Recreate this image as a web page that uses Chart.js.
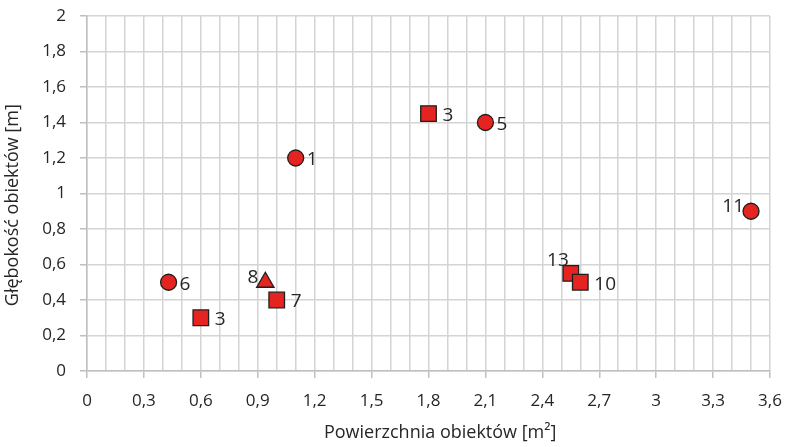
<!DOCTYPE html>
<html lang="pl">
<head>
  <meta charset="UTF-8" />
  <title>Głębokość obiektów</title>
  <script src="https://cdn.jsdelivr.net/npm/chart.js"></script>
  <style>
    html, body { margin: 0; padding: 0; background: #ffffff; }
    #wrap { width: 786px; height: 447px; }
  </style>
</head>
<body>
  <div id="wrap"><canvas id="chart"></canvas></div>

  <script>
    // data
    const areaX   = [1.1, 1.8, 2.1, 3.5, 0.43, 0.6, 0.94, 1.0, 2.55, 2.6];
    const depthY  = [1.2, 1.45, 1.4, 0.9, 0.5, 0.3, 0.5, 0.4, 0.55, 0.5];
    const labels  = ['1', '3', '5', '11', '6', '3', '8', '7', '13', '10'];
    const shapes  = ['circle', 'rect', 'circle', 'circle', 'circle', 'rect', 'triangle', 'rect', 'rect', 'rect'];
    const labelSide = ['right', 'right', 'right', 'left', 'right', 'right', 'left', 'right', 'above', 'right'];

    const xMax = 3.6, yMax = 2;
    const fontFamily = '"Open Sans", sans-serif';
    const textColor = '#262626';
    const sizes = { circle: 8, rect: 11, triangle: 10 };

    const fmt = v => String(Math.round(v * 10) / 10).replace('.', ',');
    const isMajorX = v => Math.abs(Math.round(v * 10) % 3) === 0;

    // point labels next to the markers
    const pointLabels = {
      id: 'pointLabels',
      afterDatasetsDraw(chart) {
        const ctx = chart.ctx;
        const meta = chart.getDatasetMeta(0);
        ctx.save();
        ctx.font = '19px ' + fontFamily;
        ctx.fillStyle = textColor;
        ctx.textBaseline = 'middle';
        meta.data.forEach((pt, i) => {
          const side = labelSide[i];
          if (side === 'left') {
            ctx.textAlign = 'right';
            ctx.fillText(labels[i], pt.x - 7, pt.y - 5);
          } else if (side === 'above') {
            ctx.textAlign = 'right';
            ctx.fillText(labels[i], pt.x - 2, pt.y - 13);
          } else {
            ctx.textAlign = 'left';
            ctx.fillText(labels[i], pt.x + sizes[shapes[i]] + 3, pt.y + 2);
          }
        });
        ctx.restore();
      }
    };

    new Chart(document.getElementById('chart'), {
      type: 'scatter',
      data: {
        datasets: [{
          data: areaX.map((x, i) => ({ x, y: depthY[i] })),
          pointStyle: shapes,
          pointRadius: shapes.map(s => sizes[s]),
          backgroundColor: '#E52421',
          borderColor: '#1f1f1f',
          borderWidth: 1.3
        }]
      },
      options: {
        responsive: true,
        maintainAspectRatio: false,
        animation: false,
        layout: { padding: { top: 16, right: 16, left: 0, bottom: 0 } },
        plugins: { legend: { display: false }, tooltip: { enabled: false } },
        scales: {
          x: {
            type: 'linear',
            min: 0, max: xMax,
            afterFit(scale) {
              scale.height = 76;
              scale.paddingLeft = 0;
              scale.paddingRight = 0;
            },
            ticks: {
              stepSize: 0.1,
              autoSkip: false,
              maxRotation: 0,
              padding: 13,
              color: textColor,
              font: { family: fontFamily, size: 17 },
              callback: v => isMajorX(v) ? fmt(v) : ''
            },
            grid: {
              color: '#d4d4d4',
              lineWidth: 1.5,
              tickLength: 7,
              tickColor: ctx => isMajorX(ctx.tick.value) ? '#bfbfbf' : 'rgba(0,0,0,0)'
            },
            border: { color: '#bfbfbf', width: 1.5 },
            title: {
              display: true,
              text: '     Powierzchnia obiektów [m²]',
              color: textColor,
              font: { family: fontFamily, size: 18 },
              padding: { top: 0, bottom: 3 }
            }
          },
          y: {
            type: 'linear',
            min: 0, max: yMax,
            afterFit(scale) {
              scale.width = 87;
              scale.paddingTop = 0;
              scale.paddingBottom = 0;
            },
            ticks: {
              stepSize: 0.2,
              padding: 14,
              color: textColor,
              font: { family: fontFamily, size: 17 },
              callback: v => fmt(v)
            },
            grid: {
              color: '#d4d4d4',
              lineWidth: 1.5,
              tickLength: 7,
              tickColor: '#bfbfbf'
            },
            border: { color: '#bfbfbf', width: 1.5 },
            title: {
              display: true,
              text: 'Głębokość obiektów [m]     ',
              color: textColor,
              font: { family: fontFamily, size: 18 },
              padding: { top: 2, bottom: 0 }
            }
          }
        }
      },
      plugins: [pointLabels]
    });
  </script>
</body>
</html>
